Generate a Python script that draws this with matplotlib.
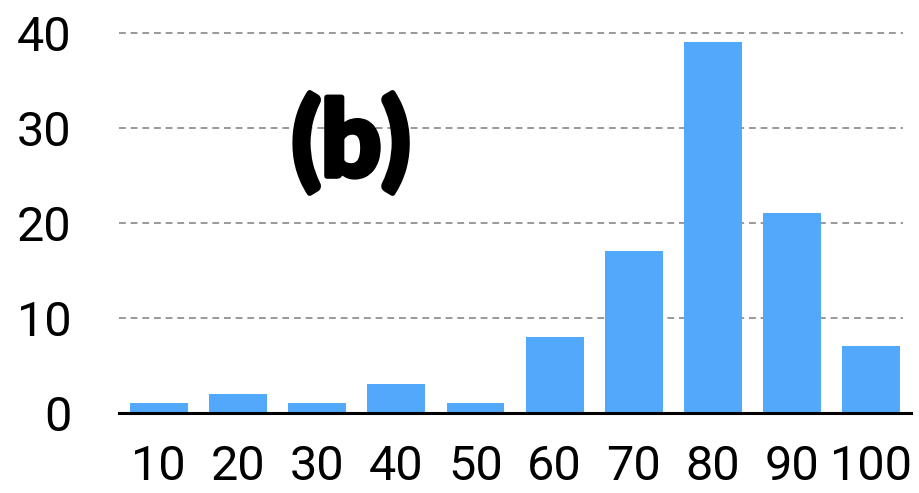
import numpy as np
import matplotlib.pyplot as plt
import matplotlib.patheffects as pe

# bins and counts
bins = ['10', '20', '30', '40', '50', '60', '70', '80', '90', '100']
counts = [1, 2, 1, 3, 1, 8, 17, 39, 21, 7]
yticks = [0, 10, 20, 30, 40]

plt.rcParams['font.family'] = ['Roboto', 'DejaVu Sans']

fig = plt.figure(figsize=(9.19, 4.93), dpi=100)
ax = fig.add_axes([0.1295, 0.1623, 0.8618, 0.7708])

x = np.arange(len(bins))
ax.bar(x, counts, width=0.73, color='#52a8fa', zorder=2)

for y in yticks[1:]:
    ax.axhline(y, xmin=0, xmax=0.99, color='#999999', lw=1.4,
               dashes=(3.5, 2.5), zorder=1, clip_on=False)

ax.set_xlim(-0.5, 9.5)
ax.set_ylim(0, 40)
ax.set_xticks(x)
ax.set_xticklabels(bins)
ax.set_yticks(yticks)

for s in ['top', 'right', 'left']:
    ax.spines[s].set_visible(False)
ax.spines['bottom'].set_linewidth(2.2)
ax.spines['bottom'].set_zorder(3)

ax.tick_params(axis='x', length=0, pad=22, labelsize=35)
ax.tick_params(axis='y', length=0, pad=34, labelsize=35)

ax.text(0.293, 0.71, '(b)', transform=ax.transAxes, ha='center', va='center',
        fontsize=76, fontweight='black', family=['Lato', 'DejaVu Sans'],
        color='black',
        path_effects=[pe.withStroke(linewidth=4, foreground='black')])

fig.savefig('out.png', dpi=100)
